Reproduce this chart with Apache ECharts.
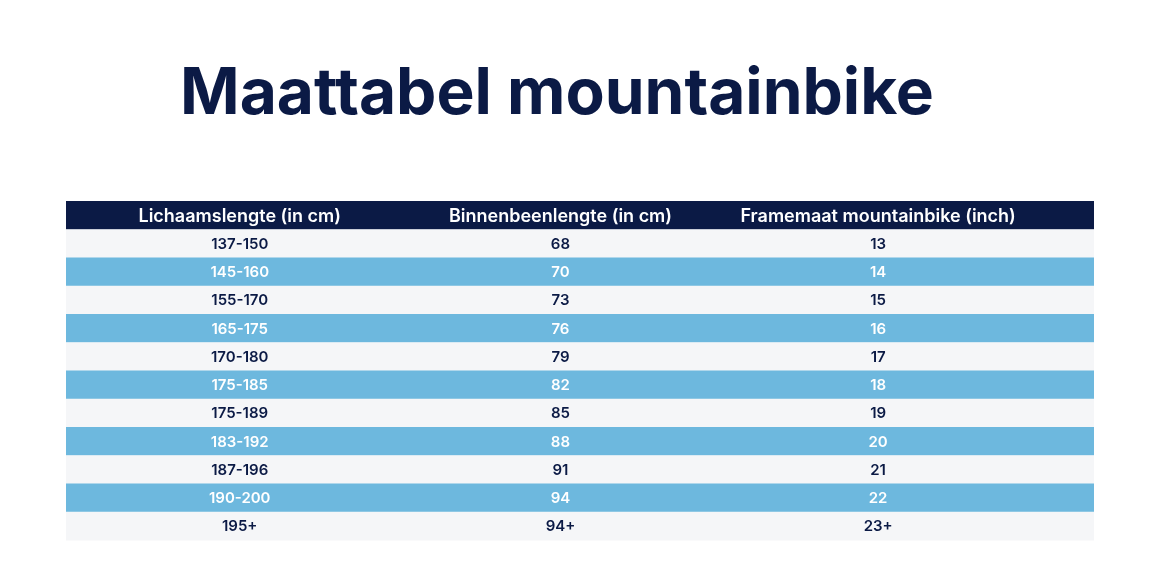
<!DOCTYPE html>
<html><head><meta charset="utf-8">
<script src="https://cdn.jsdelivr.net/npm/echarts@6/dist/echarts.min.js"></script>
<style>html,body{margin:0;background:#fff}#c{width:1160px;height:580px}</style>
</head><body><div id="c"></div>
<script>
const headers = ['Lichaamslengte (in cm)', 'Binnenbeenlengte (in cm)', 'Framemaat mountainbike (inch)'];
const lichaamslengte = ['137-150','145-160','155-170','165-175','170-180','175-185','175-189','183-192','187-196','190-200','195+'];
const binnenbeen = ['68','70','73','76','79','82','85','88','91','94','94+'];
const framemaat = ['13','14','15','16','17','18','19','20','21','22','23+'];

const columns = [lichaamslengte, binnenbeen, framemaat];
const rowCats = ['h'].concat(lichaamslengte.map((_, i) => 'r' + i));
const data = [];
for (let c = 0; c < 3; c++) {
  data.push([c, 0, headers[c], 'h']);
  columns[c].forEach((v, i) => data.push([c, i + 1, v, i % 2 ? 'b' : 'w']));
}
const colCenterFrac = [0.169, 0.481, 0.790];
const chart = echarts.init(document.getElementById('c'));
chart.setOption({
  backgroundColor: '#fff',
  title: { text: 'Maattabel mountainbike', left: 552, top: 58, textAlign: 'center',
    textStyle: { fontFamily: 'Inter', fontWeight: 'bold', fontSize: 64, color: '#0b1a45' } },
  grid: { left: 66, right: 66, top: 201, bottom: 40 },
  xAxis: { type: 'value', min: 0, max: 1, show: false },
  yAxis: { type: 'category', data: rowCats, inverse: true, show: false },
  series: [{
    type: 'custom', data: data,
    encode: { x: 0, y: 1 },
    renderItem: function (params, api) {
      const c = api.value(0);
      const p = api.coord([colCenterFrac[c], api.value(1)]);
      const s = api.size([1, 1]);
      const left = api.coord([0, 0])[0];
      const t = api.value(3);
      const fill = t === 'h' ? '#0b1a45' : (t === 'b' ? '#6db8de' : '#f5f6f8');
      const color = t === 'w' ? '#0b1a45' : '#ffffff';
      const children = [];
      if (c === 0) children.push({ type: 'rect', z2: 0, shape: { x: left, y: p[1] - s[1] / 2, width: s[0], height: s[1] + 0.5 }, style: { fill: fill } });
      children.push({ type: 'text', z2: 10, x: p[0], y: p[1] + 1, style: { text: api.value(2), align: 'center', verticalAlign: 'middle',
          fill: color, font: (t === 'h' ? '600 18px Inter' : '600 15px Inter') } });
      return { type: 'group', children: children };
    }
  }]
});
</script></body></html>
